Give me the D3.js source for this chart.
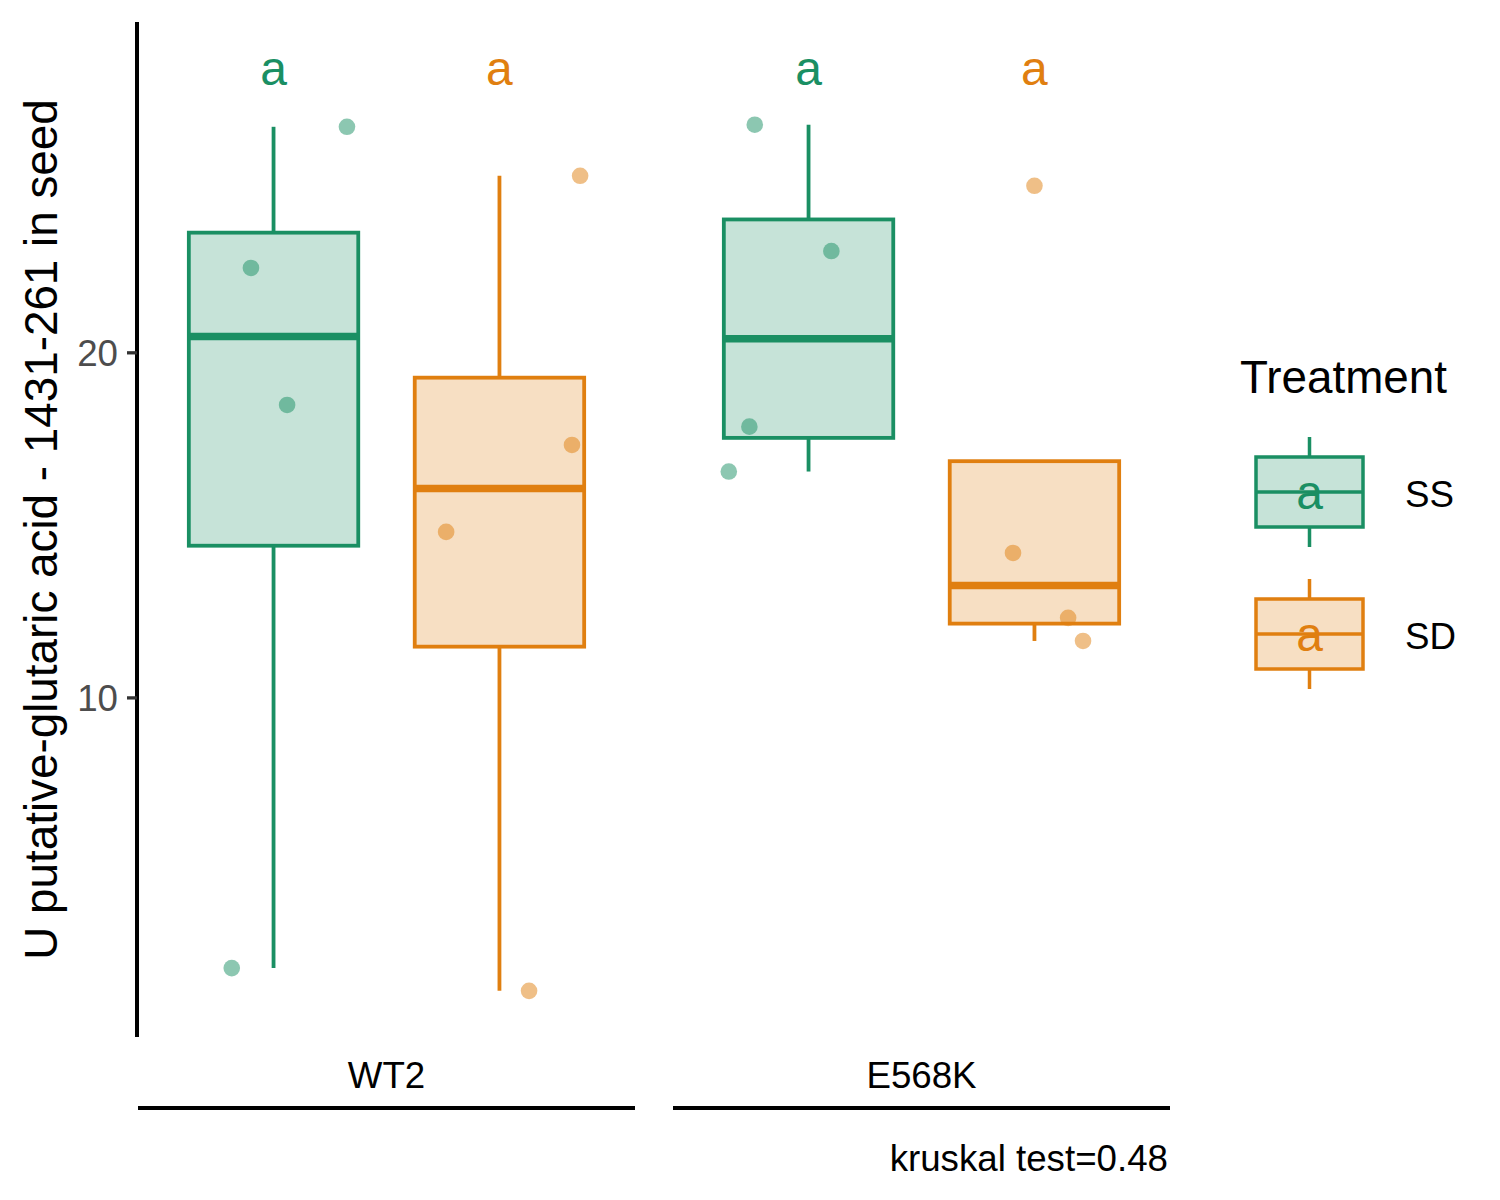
<!DOCTYPE html>
<html>
<head>
<meta charset="utf-8">
<script src="https://cdn.jsdelivr.net/npm/d3@7"></script>
<style>
  body { margin: 0; background: #fff; }
  text { font-family: "Liberation Sans", Arial, sans-serif; }
</style>
</head>
<body>
<div id="chart"></div>
<script>
// values
const genotypes = ["WT2", "E568K"];
const treatments = ["SS", "SD"];
const treatmentColors = ["#1A8F63", "#E07F10"];
const letters = ["a", "a", "a", "a"];
const letterValue = 28.25;
const yTicks = [10, 20];
const caption = "kruskal test=0.48";
const yTitle = "U putative-glutaric acid - 1431-261 in seed";

const wt2SS = [26.55, 22.46, 18.49, 2.17];
const wt2SSJitter = [0.325, -0.1, 0.06, -0.185];
const wt2SD = [25.13, 17.33, 14.81, 1.51];
const wt2SDJitter = [0.357, 0.321, -0.236, 0.131];
const e568kSS = [26.61, 22.95, 17.86, 16.56];
const e568kSSJitter = [-0.238, 0.101, -0.262, -0.353];
const e568kSD = [24.84, 14.2, 12.32, 11.65];
const e568kSDJitter = [0, -0.095, 0.149, 0.215];

const groups = [
  { genotype: "WT2", treatment: "SS", values: wt2SS, jitter: wt2SSJitter },
  { genotype: "WT2", treatment: "SD", values: wt2SD, jitter: wt2SDJitter },
  { genotype: "E568K", treatment: "SS", values: e568kSS, jitter: e568kSSJitter },
  { genotype: "E568K", treatment: "SD", values: e568kSD, jitter: e568kSDJitter },
];
groups.forEach((g, i) => (g.letter = letters[i]));

(function () {
  const width = 1500;
  const height = 1200;
  const panelTop = 22;
  const panelBottom = 1037;
  const panels = [
    [138, 635],
    [673, 1170],
  ];
  const font = '"Liberation Sans", Arial, sans-serif';

  const color = d3.scaleOrdinal().domain(treatments).range(treatmentColors);

  const svg = d3.select("#chart").append("svg").attr("width", width).attr("height", height);

  // boxplot stats, like ggplot's stat_boxplot
  const boxStats = values => {
    const s = values.slice().sort(d3.ascending);
    const q1 = d3.quantile(s, 0.25);
    const med = d3.quantile(s, 0.5);
    const q3 = d3.quantile(s, 0.75);
    const iqr = q3 - q1;
    const inside = s.filter(v => v >= q1 - 1.5 * iqr && v <= q3 + 1.5 * iqr);
    const lo = d3.min([q1, med, q3, ...inside]);
    const hi = d3.max([q1, med, q3, ...inside]);
    return { q1, med, q3, lo, hi };
  };
  groups.forEach(g => (g.stats = boxStats(g.values)));

  const allValues = groups.flatMap(g => g.values).concat([letterValue]);
  const [vMin, vMax] = d3.extent(allValues);
  const pad = (vMax - vMin) * 0.05;
  const y = d3.scaleLinear().domain([vMin - pad, vMax + pad]).range([panelBottom, panelTop]);

  const xScales = genotypes.map((gt, i) =>
    d3.scaleBand().domain(treatments).range(panels[i]).paddingInner(0).paddingOuter(0.1)
  );
  const xCenter = g => {
    const x = xScales[genotypes.indexOf(g.genotype)];
    return x(g.treatment) + x.bandwidth() / 2;
  };
  const step = xScales[0].step();
  const boxWidth = step * 0.75;

  // y axis
  const yAxis = svg.append("g").attr("transform", `translate(137, 0)`);
  yAxis
    .append("line")
    .attr("y1", panelTop)
    .attr("y2", panelBottom)
    .attr("stroke", "black")
    .attr("stroke-width", 4);
  yAxis
    .selectAll(".tick")
    .data(yTicks)
    .join("line")
    .attr("class", "tick")
    .attr("x1", -10)
    .attr("x2", 0)
    .attr("y1", d => y(d))
    .attr("y2", d => y(d))
    .attr("stroke", "#333")
    .attr("stroke-width", 3.3);
  yAxis
    .selectAll(".tickLabel")
    .data(yTicks)
    .join("text")
    .attr("class", "tickLabel")
    .attr("x", -19)
    .attr("y", d => y(d))
    .attr("dy", "0.36em")
    .attr("text-anchor", "end")
    .attr("font-size", "36.7px")
    .attr("fill", "#4D4D4D")
    .text(d => d);

  svg
    .append("text")
    .attr("transform", `translate(57, ${(panelTop + panelBottom) / 2}) rotate(-90)`)
    .attr("text-anchor", "middle")
    .attr("font-size", "45.8px")
    .attr("fill", "black")
    .text(yTitle);

  // boxes
  const boxes = svg
    .selectAll(".box")
    .data(groups)
    .join("g")
    .attr("class", "box")
    .attr("transform", d => `translate(${xCenter(d)}, 0)`);

  boxes
    .append("line")
    .attr("y1", d => y(d.stats.q3))
    .attr("y2", d => y(d.stats.hi))
    .attr("stroke", d => color(d.treatment))
    .attr("stroke-width", 3.8);
  boxes
    .append("line")
    .attr("y1", d => y(d.stats.q1))
    .attr("y2", d => y(d.stats.lo))
    .attr("stroke", d => color(d.treatment))
    .attr("stroke-width", 3.8);
  boxes
    .append("rect")
    .attr("x", -boxWidth / 2)
    .attr("width", boxWidth)
    .attr("y", d => y(d.stats.q3))
    .attr("height", d => y(d.stats.q1) - y(d.stats.q3))
    .attr("fill", d => color(d.treatment))
    .attr("fill-opacity", 0.25)
    .attr("stroke", d => color(d.treatment))
    .attr("stroke-width", 3.8);
  boxes
    .append("line")
    .attr("x1", -boxWidth / 2)
    .attr("x2", boxWidth / 2)
    .attr("y1", d => y(d.stats.med))
    .attr("y2", d => y(d.stats.med))
    .attr("stroke", d => color(d.treatment))
    .attr("stroke-width", 7.5);

  // jittered points
  boxes
    .selectAll(".pt")
    .data(d => d.values.map((v, i) => ({ v, j: d.jitter[i], treatment: d.treatment })))
    .join("circle")
    .attr("class", "pt")
    .attr("cx", d => d.j * step)
    .attr("cy", d => y(d.v))
    .attr("r", 8.3)
    .attr("fill", d => color(d.treatment))
    .attr("fill-opacity", 0.5);

  // letters
  boxes
    .append("text")
    .attr("y", y(letterValue))
    .attr("dy", "0.35em")
    .attr("text-anchor", "middle")
    .attr("font-size", "48px")
    .attr("fill", d => color(d.treatment))
    .text(d => d.letter);

  // bottom strips
  const strips = svg
    .selectAll(".strip")
    .data(genotypes)
    .join("g")
    .attr("class", "strip");
  strips
    .append("line")
    .attr("x1", (d, i) => panels[i][0])
    .attr("x2", (d, i) => panels[i][1])
    .attr("y1", 1108)
    .attr("y2", 1108)
    .attr("stroke", "black")
    .attr("stroke-width", 3.8);
  strips
    .append("text")
    .attr("x", (d, i) => (panels[i][0] + panels[i][1]) / 2)
    .attr("y", 1088)
    .attr("text-anchor", "middle")
    .attr("font-size", "36.7px")
    .attr("fill", "black")
    .text(d => d);

  svg
    .append("text")
    .attr("x", 1168)
    .attr("y", 1171)
    .attr("text-anchor", "end")
    .attr("font-size", "36.7px")
    .attr("fill", "black")
    .text(caption);

  // legend
  const legend = svg.append("g").attr("transform", "translate(1240, 0)");
  legend
    .append("text")
    .attr("x", 0)
    .attr("y", 393)
    .attr("font-size", "45.8px")
    .attr("fill", "black")
    .text("Treatment");

  const keyW = 107;
  const keyH = 70;
  const whisk = 20;
  const keys = legend
    .selectAll(".key")
    .data(treatments)
    .join("g")
    .attr("class", "key")
    .attr("transform", (d, i) => `translate(69.5, ${492 + i * 142})`);
  keys
    .append("line")
    .attr("y1", -keyH / 2 - whisk)
    .attr("y2", keyH / 2 + whisk)
    .attr("stroke", d => color(d))
    .attr("stroke-width", 3.5);
  keys
    .append("rect")
    .attr("x", -keyW / 2)
    .attr("y", -keyH / 2)
    .attr("width", keyW)
    .attr("height", keyH)
    .attr("fill", "white");
  keys
    .append("rect")
    .attr("x", -keyW / 2)
    .attr("y", -keyH / 2)
    .attr("width", keyW)
    .attr("height", keyH)
    .attr("fill", d => color(d))
    .attr("fill-opacity", 0.25)
    .attr("stroke", d => color(d))
    .attr("stroke-width", 3.5);
  keys
    .append("line")
    .attr("x1", -keyW / 2)
    .attr("x2", keyW / 2)
    .attr("stroke", d => color(d))
    .attr("stroke-width", 3.5);
  keys
    .append("text")
    .attr("dy", "0.35em")
    .attr("text-anchor", "middle")
    .attr("font-size", "48px")
    .attr("fill", d => color(d))
    .text("a");
  keys
    .append("text")
    .attr("x", 95.5)
    .attr("y", 2)
    .attr("dy", "0.36em")
    .attr("font-size", "36.7px")
    .attr("fill", "black")
    .text(d => d);
})();
</script>
</body>
</html>
